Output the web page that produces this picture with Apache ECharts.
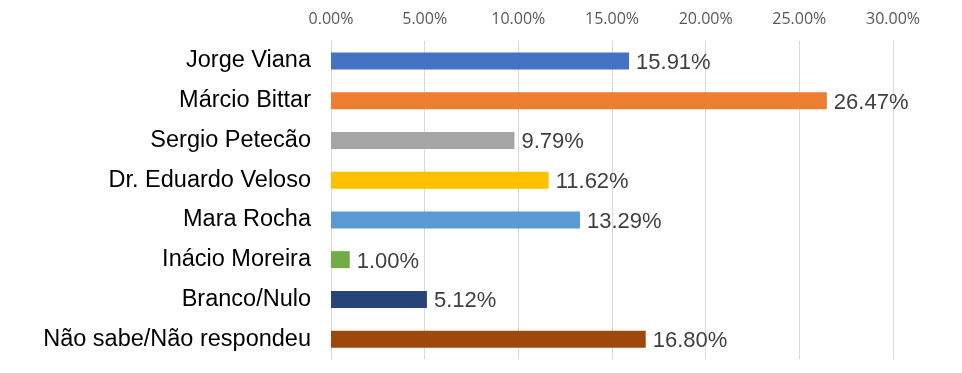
<!DOCTYPE html>
<html><head><meta charset="utf-8">
<script src="https://cdn.jsdelivr.net/npm/echarts@6/dist/echarts.min.js"></script>
<style>html,body{margin:0;padding:0;background:#fff}#c{width:962px;height:373px}</style>
</head><body><div id="c"></div>
<script>
const categories = ["Jorge Viana","Márcio Bittar","Sergio Petecão","Dr. Eduardo Veloso","Mara Rocha","Inácio Moreira","Branco/Nulo","Não sabe/Não respondeu"];
const values = [15.91, 26.47, 9.79, 11.62, 13.29, 1.00, 5.12, 16.80];
const colors = ["#4472C4","#ED7D31","#A5A5A5","#FFC000","#5B9BD5","#70AD47","#264478","#9E480E"];
const tickLabels = ["0.00%","5.00%","10.00%","15.00%","20.00%","25.00%","30.00%"];

const chart = echarts.init(document.getElementById('c'));
chart.setOption({
  animation:false,
  grid:{left:331, right:69, top:41, bottom:14, containLabel:false},
  xAxis:{type:'value', position:'top', min:0, max:30, interval:5,
    axisLine:{show:false}, axisTick:{show:false},
    splitLine:{lineStyle:{color:'#D9D9D9', width:1}},
    axisLabel:{margin:14, color:'#595959', fontFamily:'Open Sans', fontSize:16,
      formatter:(v)=>tickLabels[Math.round(v/5)]}},
  yAxis:{type:'category', inverse:true, data:categories,
    axisLine:{show:true, lineStyle:{color:'#D9D9D9'}}, axisTick:{show:false},
    axisLabel:{margin:20, color:'#000', fontFamily:'Liberation Sans', fontSize:23.5,
      padding:[4,0,0,0]}},
  series:[{type:'bar', barWidth:17,
    data:values.map((v,i)=>({value:v, itemStyle:{color:colors[i]}})),
    label:{show:true, position:'right', distance:7, color:'#404040',
      fontFamily:'Liberation Sans', fontSize:22, offset:[0,2],
      formatter:(p)=>p.value.toFixed(2)+'%'}}]
});
</script></body></html>
